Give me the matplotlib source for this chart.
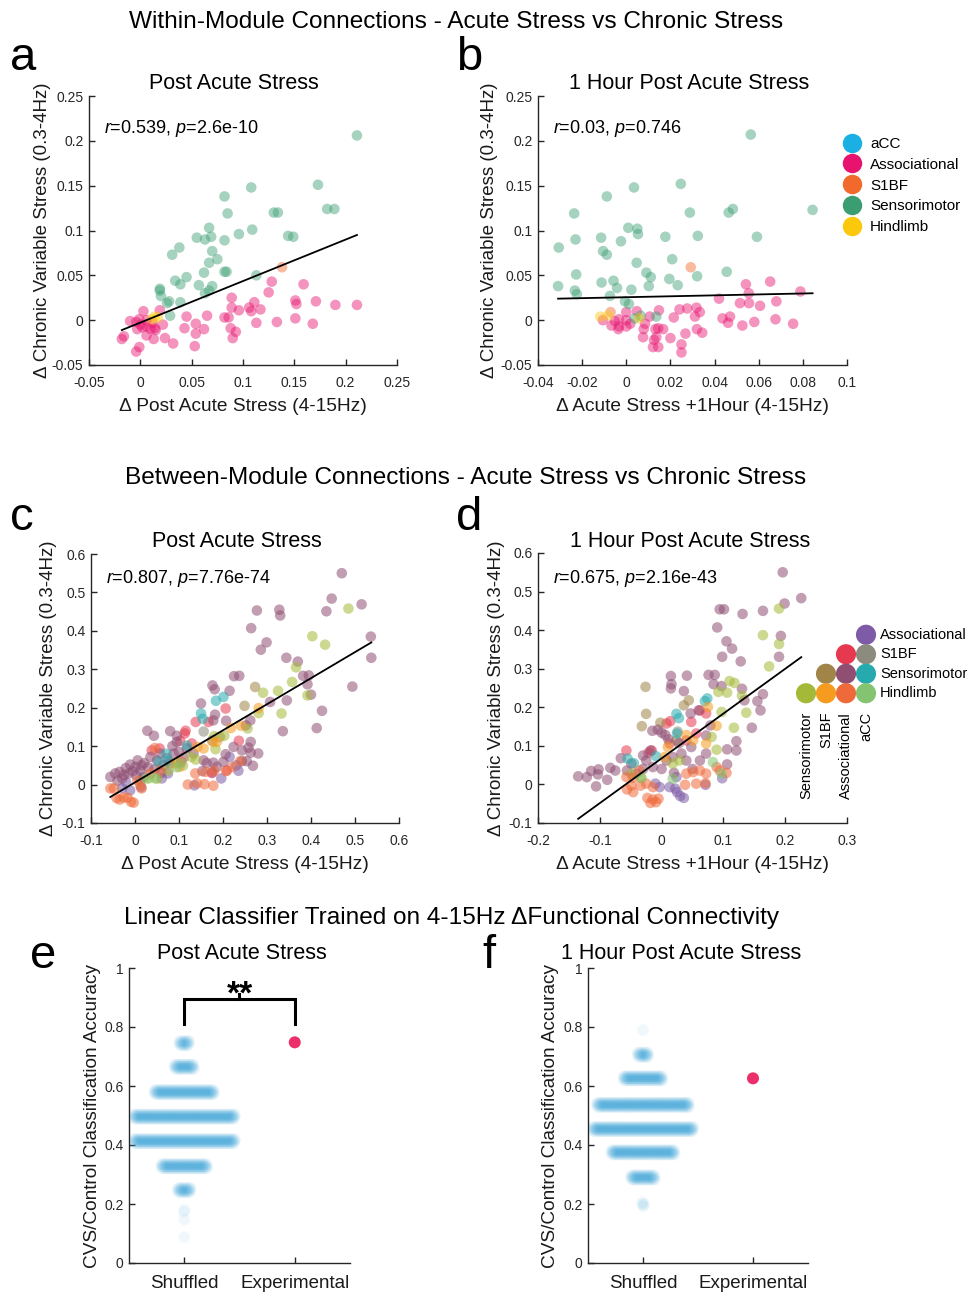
import numpy as np
import matplotlib
matplotlib.use('Agg')
import matplotlib.pyplot as plt
from matplotlib.lines import Line2D

plt.rcParams['font.family'] = ['Liberation Sans', 'DejaVu Sans']
plt.rcParams['mathtext.fontset'] = 'custom'
plt.rcParams['mathtext.rm'] = 'Liberation Sans'
plt.rcParams['mathtext.it'] = 'Liberation Sans:italic'

# ---------------- data: within-module (panels a, b) ----------------
MODULES = ['aCC', 'Associational', 'S1BF', 'Sensorimotor', 'Hindlimb']
MODULE_COLORS = ['#1ab0e4', '#e8136f', '#f26a2b', '#3a9e72', '#fcc80c']

A_SM = [(0.211, 0.206), (0.173, 0.151), (0.108, 0.148), (0.082, 0.138), (0.130, 0.120), (0.134, 0.120),
        (0.085, 0.119), (0.182, 0.124), (0.189, 0.124), (0.067, 0.103), (0.109, 0.101), (0.096, 0.096),
        (0.144, 0.094), (0.149, 0.093), (0.055, 0.092), (0.069, 0.093), (0.063, 0.090), (0.082, 0.089),
        (0.038, 0.081), (0.031, 0.073), (0.070, 0.077), (0.075, 0.068), (0.067, 0.064), (0.082, 0.054),
        (0.084, 0.054), (0.113, 0.050), (0.062, 0.053), (0.045, 0.048), (0.034, 0.044), (0.039, 0.040),
        (0.057, 0.039), (0.070, 0.038), (0.067, 0.033), (0.063, 0.030), (0.019, 0.035), (0.019, 0.033),
        (0.020, 0.027), (0.028, 0.021), (0.026, 0.019), (0.039, 0.020), (0.029, 0.005)]
A_ASSOC = [(0.211, 0.017), (0.190, 0.017), (0.171, 0.021), (0.159, 0.040), (0.151, 0.022), (0.152, 0.018),
           (0.128, 0.043), (0.125, 0.031), (0.151, 0.002), (0.168, -0.004), (0.133, -0.002), (0.117, 0.012),
           (0.111, 0.020), (0.106, 0.014), (0.108, 0.010), (0.113, -0.003), (0.096, 0.011), (0.089, 0.025),
           (0.089, 0.014), (0.086, 0.003), (0.082, 0.003), (0.088, -0.009), (0.093, -0.013), (0.090, -0.020),
           (0.065, 0.005), (0.054, -0.004), (0.054, -0.015), (0.062, -0.010), (0.053, -0.029), (0.043, -0.009),
           (0.045, 0.004), (0.032, -0.026), (0.024, -0.020), (0.022, -0.005), (0.013, -0.021), (0.015, -0.011),
           (0.014, -0.009), (0.019, 0.011), (0.003, 0.010), (0.006, 0.000), (0.006, -0.007), (-0.001, 0.001),
           (-0.004, -0.002), (-0.010, -0.001), (0.000, -0.005), (0.002, -0.008), (0.006, -0.017),
           (-0.003, -0.010), (-0.016, -0.018), (-0.018, -0.021), (-0.001, -0.030), (-0.004, -0.035),
           (0.010, -0.010), (0.012, -0.003)]
A_S1BF = [(0.138, 0.059)]
A_HL = [(0.014, 0.004), (0.017, 0.003), (0.011, 0.001)]
A_ACC = []
A_FIT = (0.463, -0.0027)
A_STATS = ('0.539', '2.6e-10')

B_SM = [(0.0564, 0.207), (0.0247, 0.152), (0.0035, 0.148), (-0.0088, 0.138), (-0.0236, 0.119), (0.0288, 0.120),
        (0.0464, 0.120), (0.0483, 0.124), (0.0844, 0.123), (0.0009, 0.103), (0.0050, 0.102), (0.0053, 0.096),
        (-0.0114, 0.092), (-0.0230, 0.090), (-0.0024, 0.088), (0.0177, 0.093), (0.0324, 0.094), (0.0592, 0.093),
        (-0.0306, 0.081), (-0.0105, 0.077), (-0.0088, 0.073), (0.0208, 0.068), (0.0047, 0.064), (0.0091, 0.053),
        (0.0111, 0.048), (0.0321, 0.049), (0.0455, 0.054), (-0.0227, 0.051), (-0.0112, 0.042), (-0.0058, 0.044),
        (-0.0042, 0.036), (0.0195, 0.046), (0.0233, 0.039), (0.0102, 0.038), (-0.0309, 0.038), (-0.0233, 0.033),
        (-0.0224, 0.029), (0.0023, 0.034), (-0.0074, 0.027), (-0.0006, 0.021), (0.0012, 0.018), (0.0065, 0.005),
        (0.0136, 0.004), (0.0038, 0.002)]
B_ASSOC = [(0.0789, 0.032), (0.0652, 0.043), (0.0542, 0.040), (0.0420, 0.024), (0.0515, 0.019), (0.0556, 0.019),
           (0.0555, 0.030), (0.0606, 0.016), (0.0680, 0.021), (0.0676, 0.001), (0.0756, -0.004), (0.0580, -0.002),
           (0.0526, -0.006), (0.0461, -0.003), (0.0470, 0.004), (0.0436, 0.002), (0.0318, 0.014), (0.0333, 0.009),
           (0.0311, 0.004), (0.0276, 0.013), (0.0241, 0.012), (0.0215, 0.003), (0.0320, -0.010), (0.0344, -0.014),
           (0.0268, -0.015), (0.0200, -0.020), (0.0250, -0.027), (0.0250, -0.036), (0.0148, 0.011),
           (0.0145, -0.009), (0.0167, -0.010), (0.0132, -0.010), (0.0136, -0.019), (0.0126, -0.022),
           (0.0145, -0.030), (0.0121, -0.030), (0.0106, 0.004), (0.0085, -0.004), (0.0079, -0.010),
           (0.0076, -0.019), (0.0048, 0.010), (0.0000, 0.009), (-0.0033, 0.001), (-0.0052, -0.001),
           (-0.0033, -0.007), (0.0000, -0.007), (0.0018, -0.004), (-0.0067, -0.006), (-0.0106, 0.000),
           (-0.0036, -0.010), (0.0000, 0.000)]
B_S1BF = [(0.0292, 0.059), (-0.0071, 0.009)]
B_HL = [(-0.0118, 0.004), (-0.0083, 0.005), (0.0058, 0.002)]
B_ACC = []
B_FIT = (0.052, 0.0256)
B_STATS = ('0.03', '0.746')

# ---------------- data: between-module (panels c, d) ----------------
PAIR_NAMES = ['AsAc', 'S1As', 'S1Ac', 'SMS1', 'SMAs', 'SMAc', 'HLSM', 'HLS1', 'HLAs', 'HLAc']
PAIR_COLORS = ['#7d5ba6', '#e6394f', '#8c8c7e', '#a08448', '#8f4f73', '#27aaae',
               '#a4b938', '#f59c1f', '#ef6a3a', '#84c470']
LEG_ROWS = ['Associational', 'S1BF', 'Sensorimotor', 'Hindlimb']
LEG_COLS = ['Sensorimotor', 'S1BF', 'Associational', 'aCC']
# pair drawn at (row, col) of the legend matrix
PAIR_CELLS = {'AsAc': (0, 3), 'S1As': (1, 2), 'S1Ac': (1, 3), 'SMS1': (2, 1), 'SMAs': (2, 2), 'SMAc': (2, 3),
              'HLSM': (3, 0), 'HLS1': (3, 1), 'HLAs': (3, 2), 'HLAc': (3, 3)}

C_PTS = {
    'SMAs': [(0.470, 0.550), (0.447, 0.484), (0.515, 0.469), (0.435, 0.451), (0.277, 0.453), (0.328, 0.455),
             (0.330, 0.440), (0.264, 0.407), (0.536, 0.385), (0.299, 0.370), (0.286, 0.351), (0.344, 0.330),
             (0.537, 0.330), (0.370, 0.320), (0.382, 0.283), (0.395, 0.284), (0.392, 0.261), (0.237, 0.283),
             (0.225, 0.282), (0.176, 0.258), (0.181, 0.248), (0.215, 0.244), (0.494, 0.255), (0.400, 0.234),
             (0.345, 0.219), (0.307, 0.215), (0.425, 0.192), (0.336, 0.139), (0.413, 0.147), (0.150, 0.211),
             (0.182, 0.182), (0.207, 0.166), (0.178, 0.167), (0.262, 0.167), (0.252, 0.154), (0.028, 0.140),
             (0.043, 0.127), (0.080, 0.139), (0.095, 0.127), (0.095, 0.111), (0.263, 0.111), (0.258, 0.096),
             (0.243, 0.089), (0.263, 0.083), (0.280, 0.081), (0.268, 0.049), (0.254, 0.061), (0.224, 0.098),
             (0.243, 0.061), (0.206, 0.079), (0.201, 0.059), (0.156, 0.063), (0.163, 0.056), (0.153, 0.035),
             (0.178, 0.057), (0.186, 0.046), (-0.056, 0.020), (-0.045, 0.029), (-0.035, 0.033), (-0.021, 0.043),
             (-0.011, 0.052), (0.006, 0.063), (0.021, 0.056), (0.035, 0.072), (0.050, 0.063), (0.057, 0.081),
             (0.073, 0.068), (0.088, 0.081), (0.118, 0.094), (0.133, 0.081), (-0.029, 0.016), (-0.014, 0.029),
             (0.012, 0.037), (0.001, 0.046), (-0.040, 0.010), (-0.025, 0.025), (-0.005, 0.035), (0.015, 0.050),
             (0.030, 0.045), (0.045, 0.040), (0.065, 0.050), (0.080, 0.055), (0.100, 0.085), (0.110, 0.070),
             (0.085, 0.100), (0.060, 0.030), (0.020, 0.020)],
    'AsAc': [(0.196, 0.016), (0.215, 0.072), (0.235, 0.036), (0.135, -0.002), (0.175, 0.032), (0.014, -0.007),
             (-0.011, -0.015), (0.003, 0.024), (0.061, 0.016), (-0.029, -0.010), (0.075, 0.029), (0.230, 0.050),
             (-0.020, 0.005)],
    'S1As': [(0.115, 0.140), (0.113, 0.133), (0.138, 0.163), (0.206, 0.198), (0.167, 0.163), (0.236, 0.114),
             (0.038, 0.089), (0.056, 0.094), (0.103, 0.114), (0.129, 0.107), (0.209, 0.037), (0.175, 0.030)],
    'HLAs': [(-0.056, -0.010), (-0.048, -0.010), (-0.042, -0.035), (-0.035, -0.039), (-0.026, -0.034),
             (-0.009, -0.045), (-0.003, -0.047), (-0.017, -0.034), (0.012, -0.002), (0.005, 0.011), (0.120, 0.000),
             (0.141, 0.003), (0.158, 0.001), (0.178, -0.003), (0.160, 0.033), (0.180, 0.036), (0.137, 0.029),
             (0.207, 0.035), (0.221, 0.046), (0.239, 0.061), (0.035, 0.029), (0.057, 0.037), (0.045, 0.095),
             (0.015, -0.010), (0.105, 0.060)],
    'HLS1': [(0.281, 0.199), (0.241, 0.153), (0.177, 0.111), (0.186, 0.111), (0.156, 0.094), (0.091, 0.055),
             (0.101, 0.046), (0.142, 0.098), (0.218, 0.147)],
    'HLSM': [(0.485, 0.458), (0.403, 0.386), (0.432, 0.364), (0.366, 0.305), (0.357, 0.267), (0.392, 0.232),
             (0.333, 0.185), (0.291, 0.239), (0.325, 0.244), (0.281, 0.186), (0.256, 0.146), (0.183, 0.092),
             (0.180, 0.126), (0.138, 0.065), (0.128, 0.072), (0.109, 0.049), (0.098, 0.057), (0.076, 0.037),
             (0.050, 0.015), (0.031, 0.016), (0.203, 0.127)],
    'SMAc': [(0.184, 0.218), (0.201, 0.228), (0.150, 0.185), (0.154, 0.171), (0.076, 0.061), (0.054, 0.059),
             (0.071, 0.080), (0.118, 0.101)],
    'S1Ac': [(0.156, 0.138), (0.175, 0.115), (0.012, 0.011)],
    'SMS1': [(0.273, 0.254), (0.249, 0.205), (0.193, 0.124)],
    'HLAc': [(0.104, 0.055), (0.095, 0.045), (0.045, 0.017), (0.026, 0.016)],
}
C_FIT = (0.678, 0.0057)
C_STATS = ('0.807', '7.76e-74')

D_PTS = {
    'SMAs': [(0.196, 0.550), (0.226, 0.483), (0.199, 0.469), (0.094, 0.454), (0.101, 0.454), (0.131, 0.442),
             (0.164, 0.450), (0.193, 0.385), (0.090, 0.407), (0.105, 0.371), (0.114, 0.352), (0.098, 0.331),
             (0.128, 0.319), (0.190, 0.331), (0.076, 0.284), (0.086, 0.284), (0.084, 0.260), (0.097, 0.255),
             (0.015, 0.281), (0.016, 0.260), (0.015, 0.249), (0.041, 0.282), (0.036, 0.242), (0.130, 0.248),
             (0.164, 0.234), (0.134, 0.218), (0.155, 0.216), (0.160, 0.192), (0.146, 0.147), (0.121, 0.112),
             (0.106, 0.091), (0.121, 0.088), (0.106, 0.052), (0.047, 0.184), (0.060, 0.192), (0.079, 0.153),
             (0.072, 0.127), (-0.015, 0.139), (-0.006, 0.142), (0.006, 0.128), (0.000, 0.134), (0.011, 0.117),
             (0.028, 0.107), (0.048, 0.097), (-0.066, 0.068), (-0.135, 0.021), (-0.121, 0.019), (-0.114, 0.035),
             (-0.102, 0.039), (-0.103, 0.026), (-0.106, -0.005), (-0.088, 0.012), (-0.083, 0.043), (-0.075, 0.036),
             (-0.056, 0.036), (-0.049, 0.054), (-0.030, 0.075), (-0.041, 0.028), (-0.025, 0.062), (-0.014, 0.045),
             (0.008, 0.062), (0.018, 0.071), (0.032, 0.080), (0.040, 0.062), (0.062, 0.062), (0.072, 0.080),
             (-0.018, 0.088), (0.000, 0.040), (0.020, 0.030), (-0.030, 0.040), (0.050, 0.040)],
    'HLSM': [(0.190, 0.456), (0.164, 0.387), (0.190, 0.364), (0.174, 0.306), (0.110, 0.268), (0.118, 0.263),
             (0.092, 0.240), (0.106, 0.238), (0.137, 0.186), (0.117, 0.147), (0.097, 0.188), (0.089, 0.090),
             (0.130, 0.230), (0.081, 0.123), (0.018, 0.054), (0.029, 0.062), (-0.049, 0.028), (-0.033, 0.017)],
    'SMS1': [(-0.026, 0.253), (-0.025, 0.183), (-0.032, 0.151), (-0.002, 0.160), (0.036, 0.205), (0.044, 0.218),
             (0.024, 0.114)],
    'SMAc': [(0.074, 0.223), (0.070, 0.216), (0.024, 0.183), (0.028, 0.172), (-0.055, 0.067), (-0.045, 0.055),
             (-0.009, 0.073), (0.025, 0.132)],
    'S1As': [(0.014, 0.164), (0.008, 0.158), (0.048, 0.162), (0.062, 0.192), (-0.016, 0.088), (-0.021, 0.082),
             (-0.057, 0.088), (0.013, 0.106), (0.040, 0.114), (0.056, 0.132), (0.072, 0.184)],
    'HLAs': [(-0.056, -0.013), (-0.046, -0.020), (-0.034, -0.003), (-0.049, -0.003), (-0.025, 0.002),
             (-0.014, -0.007), (-0.023, -0.035), (-0.014, -0.039), (-0.005, -0.037), (-0.018, -0.048),
             (-0.009, -0.046), (0.038, -0.001), (0.056, 0.002), (0.071, 0.003), (0.040, 0.028), (0.051, 0.032),
             (0.062, 0.036), (0.072, 0.028), (0.094, 0.036), (0.105, 0.030), (0.089, 0.045), (-0.057, 0.019),
             (-0.046, 0.017), (-0.036, 0.036)],
    'HLS1': [(0.089, 0.152), (0.075, 0.201), (0.040, 0.128), (0.051, 0.114), (0.010, 0.097), (0.005, 0.071),
             (0.072, 0.106)],
    'AsAc': [(0.098, 0.016), (0.071, -0.001), (0.036, -0.035), (0.025, -0.020), (0.022, -0.011), (0.013, -0.007),
             (-0.010, 0.002), (-0.003, -0.007), (0.024, 0.019), (0.030, -0.030)],
    'S1Ac': [(0.026, 0.137)],
    'HLAc': [(0.083, 0.058), (0.097, 0.028), (0.018, 0.015), (-0.033, 0.017)],
}
D_FIT = (1.161, 0.0676)
D_STATS = ('0.675', '2.16e-43')

# ---------------- data: classifier (panels e, f) ----------------
CLASS_LABELS = ['Shuffled', 'Experimental']
E_LEVELS = [0.088, 0.147, 0.173, 0.247, 0.328, 0.413, 0.496, 0.579, 0.665, 0.745]
E_COUNTS = [1, 1, 2, 26, 91, 200, 200, 118, 39, 20]
E_EXPERIMENTAL = 0.748
E_SIG = '**'
F_LEVELS = [0.199, 0.290, 0.375, 0.454, 0.536, 0.626, 0.706, 0.790]
F_COUNTS = [4, 48, 126, 200, 183, 78, 22, 1]
F_EXPERIMENTAL = 0.626

# ---------------- layout helpers ----------------
W, H = 970, 1294
fig = plt.figure(figsize=(W / 100, H / 100), dpi=100)
AXC = '#262626'
TXC = '#1a1a1a'


def rect(l, t, r, b):
    return [l / W, 1 - b / H, (r - l) / W, (b - t) / H]


def fmt(v, pos=None):
    s = '%g' % round(v, 6)
    return '0' if s == '-0' else s


def style(ax):
    for s in ['top', 'right']:
        ax.spines[s].set_visible(False)
    for s in ['left', 'bottom']:
        ax.spines[s].set_color(AXC)
        ax.spines[s].set_linewidth(1.0)
    ax.tick_params(direction='in', length=4, width=1, colors=AXC, labelsize=10)
    ax.tick_params(axis='y', pad=4)
    ax.tick_params(axis='x', pad=8)
    ax.xaxis.set_major_formatter(plt.FuncFormatter(fmt))
    ax.yaxis.set_major_formatter(plt.FuncFormatter(fmt))


def ftext(x, y, s, **kw):
    fig.text(x / W, 1 - y / H, s, **kw)


def px_title(text, xc, yb):
    ftext(xc, yb, text, fontsize=15.5, ha='center', va='baseline')


YLAB = '\u0394 Chronic Variable Stress (0.3-4Hz)'


def scatter_panel(ax, groups, colors, fit, stats, xlim, ylim, xticks, yticks, xlabel, alpha, ty, ylx):
    for pts, col in zip(groups, colors):
        if len(pts) == 0:
            continue
        arr = np.array(pts)
        ax.scatter(arr[:, 0], arr[:, 1], s=58, color=col, alpha=alpha, edgecolors='none', zorder=2)
    allx = np.concatenate([np.array(p)[:, 0] for p in groups if len(p)])
    lx = np.array([allx.min(), allx.max()])
    ax.plot(lx, fit[0] * lx + fit[1], color='k', lw=1.3, zorder=3)
    ax.set_xlim(*xlim)
    ax.set_ylim(*ylim)
    ax.set_xticks(xticks)
    ax.set_yticks(yticks)
    style(ax)
    ax.set_xlabel(xlabel, fontsize=13.8, color=TXC, labelpad=6)
    ax.set_ylabel(YLAB, fontsize=13.5, color=TXC)
    ax.yaxis.set_label_coords(ylx, 0.5)
    ax.text(0.05, ty, r'$\it{r}$=%s, $\it{p}$=%s' % stats, transform=ax.transAxes, fontsize=13, va='center')


# ---------------- panel a ----------------
axa = fig.add_axes(rect(89, 96, 397, 365))
scatter_panel(axa, [A_ACC, A_ASSOC, A_S1BF, A_SM, A_HL], MODULE_COLORS, A_FIT, A_STATS,
              (-0.05, 0.25), (-0.05, 0.25), np.arange(-0.05, 0.26, 0.05), np.arange(-0.05, 0.26, 0.05),
              '\u0394 Post Acute Stress (4-15Hz)', 0.45, 0.88, -0.122)
px_title('Post Acute Stress', 234, 89)

# ---------------- panel b ----------------
axb = fig.add_axes(rect(538, 96, 847, 365))
scatter_panel(axb, [B_ACC, B_ASSOC, B_S1BF, B_SM, B_HL], MODULE_COLORS, B_FIT, B_STATS,
              (-0.04, 0.1), (-0.05, 0.25), np.arange(-0.04, 0.101, 0.02), np.arange(-0.05, 0.26, 0.05),
              '\u0394 Acute Stress +1Hour (4-15Hz)', 0.45, 0.88, -0.128)
px_title('1 Hour Post Acute Stress', 689, 89)
handles = [Line2D([], [], marker='o', ls='none', markersize=14, markerfacecolor=c, markeredgecolor='none')
           for c in MODULE_COLORS]
axb.legend(handles, MODULES, loc='upper left', bbox_to_anchor=(0.958, 0.87), frameon=False, fontsize=11,
           handletextpad=0.45, labelspacing=0.44, borderaxespad=0, handlelength=1.5)

# ---------------- panel c ----------------
axc = fig.add_axes(rect(91, 554, 399, 823))
scatter_panel(axc, [C_PTS[k] for k in PAIR_NAMES], PAIR_COLORS, C_FIT, C_STATS,
              (-0.1, 0.6), (-0.1, 0.6), np.arange(-0.1, 0.61, 0.1), np.arange(-0.1, 0.61, 0.1),
              '\u0394 Post Acute Stress (4-15Hz)', 0.55, 0.91, -0.112)
px_title('Post Acute Stress', 237, 547)

# ---------------- panel d ----------------
axd = fig.add_axes(rect(538, 553, 847, 823))
scatter_panel(axd, [D_PTS[k] for k in PAIR_NAMES], PAIR_COLORS, D_FIT, D_STATS,
              (-0.2, 0.3), (-0.1, 0.6), np.arange(-0.2, 0.31, 0.1), np.arange(-0.1, 0.61, 0.1),
              '\u0394 Acute Stress +1Hour (4-15Hz)', 0.55, 0.905, -0.108)
px_title('1 Hour Post Acute Stress', 690, 547)

# matrix legend for pairs
axl = fig.add_axes(rect(796, 625, 876, 703))
axl.set_xlim(-0.5, 3.5)
axl.set_ylim(3.5, -0.5)
axl.axis('off')
for name, col in zip(PAIR_NAMES, PAIR_COLORS):
    r, c = PAIR_CELLS[name]
    axl.scatter([c], [r], s=210, color=col, edgecolors='none', clip_on=False)
for i, lab in enumerate(LEG_ROWS):
    axl.text(3.7, i, lab, fontsize=10.5, va='center', ha='left')
for j, lab in enumerate(LEG_COLS):
    axl.text(j, 3.95, lab, fontsize=10.5, rotation=90, va='top', ha='center')


# ---------------- panels e, f ----------------
def swarm_panel(ax, levels, counts, experimental, ylx):
    xs, ys = [], []
    maxc = max(counts)
    for lv, n in zip(levels, counts):
        half = 0.46 * n / maxc
        off = np.array([0.0]) if n == 1 else np.linspace(-half, half, n)
        yoff = np.resize([0.0, 0.007, -0.007], n)
        xs.append(1 + off)
        ys.append(lv + yoff)
    ax.scatter(np.concatenate(xs), np.concatenate(ys), s=70, color='#3aa6dc', alpha=0.07,
               edgecolors='none', zorder=2)
    ax.scatter([2], [experimental], s=75, color='#ec2f6b', edgecolors='none', zorder=3)
    ax.set_xlim(0.5, 2.5)
    ax.set_ylim(0, 1)
    ax.set_xticks([1, 2])
    ax.set_yticks(np.arange(0, 1.01, 0.2))
    style(ax)
    ax.set_xticklabels(CLASS_LABELS, fontsize=13.5, color=TXC)
    ax.tick_params(axis='x', pad=9)
    ax.set_ylabel('CVS/Control Classification Accuracy', fontsize=13.7, color=TXC)
    ax.yaxis.set_label_coords(ylx, 0.5)


axe = fig.add_axes(rect(129, 968, 350, 1263))
swarm_panel(axe, E_LEVELS, E_COUNTS, E_EXPERIMENTAL, -0.127)
px_title('Post Acute Stress', 242, 959)
top = 0.895
axe.plot([1, 1, 2, 2], [0.81, top, top, 0.81], color='k', lw=2.2, solid_joinstyle='miter', clip_on=False)
axe.plot([1.5, 1.5], [top, top + 0.018], color='k', lw=2.2, clip_on=False)
axe.text(1.5, 0.881, E_SIG, fontsize=24, fontweight='bold', ha='center', va='baseline')

axf = fig.add_axes(rect(588, 968, 808, 1263))
swarm_panel(axf, F_LEVELS, F_COUNTS, F_EXPERIMENTAL, -0.132)
px_title('1 Hour Post Acute Stress', 681, 959)

# ---------------- titles & panel letters ----------------
ftext(456, 28, 'Within-Module Connections - Acute Stress vs Chronic Stress', fontsize=17.6, ha='center', va='baseline')
ftext(466, 484, 'Between-Module Connections - Acute Stress vs Chronic Stress', fontsize=17.6, ha='center', va='baseline')
ftext(452, 924, 'Linear Classifier Trained on 4-15Hz \u0394Functional Connectivity', fontsize=17.6, ha='center', va='baseline')
for lab, x, y in [('a', 10, 70), ('b', 456, 70), ('c', 10, 530), ('d', 456, 530), ('e', 30, 968), ('f', 482, 968)]:
    ftext(x, y, lab, fontsize=34, ha='left', va='baseline')

fig.savefig('out.png', dpi=100)
